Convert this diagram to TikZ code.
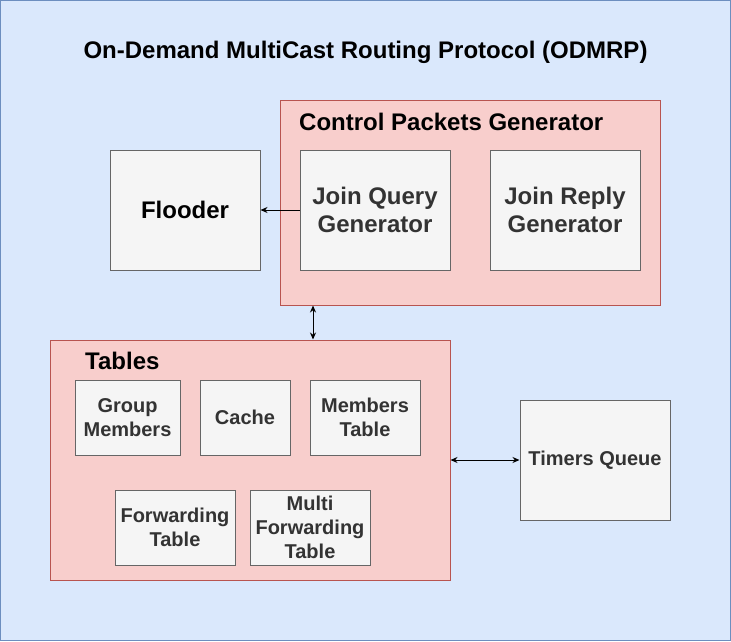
\documentclass[tikz,border=0pt]{standalone}
\usepackage{fontspec}
\setmainfont{Liberation Sans}
\usepackage{xcolor}
\usepackage{tikz}
\usetikzlibrary{arrows.meta}

\definecolor{outerfill}{HTML}{DAE8FC}
\definecolor{outerline}{HTML}{6C8EBF}
\definecolor{groupfill}{HTML}{F8CECC}
\definecolor{groupline}{HTML}{B85450}
\definecolor{itemfill}{HTML}{F5F5F5}
\definecolor{itemline}{HTML}{666666}
\definecolor{itemtext}{HTML}{333333}

\newcommand{\bigfont}{\fontsize{24}{28}\selectfont\bfseries}
\newcommand{\smallfont}{\fontsize{20}{24}\selectfont\bfseries}

\tikzset{
  outerbox/.style={draw=outerline, fill=outerfill, line width=1pt, inner sep=0pt},
  groupbox/.style={draw=groupline, fill=groupfill, line width=1pt, inner sep=0pt},
  grouplabel/.style={anchor=west, inner sep=0pt, font=\bigfont},
  itembox/.style={draw=itemline, fill=itemfill, line width=1pt, inner sep=0pt,
    align=center, text=itemtext, font=\smallfont},
  bigitem/.style={itembox, font=\bigfont},
  link/.style={line width=1pt, -{Stealth[length=7pt,width=6pt]}},
  duplex/.style={line width=1pt, {Stealth[length=7pt,width=6pt]}-{Stealth[length=7pt,width=6pt]}},
}

\begin{document}
\begin{tikzpicture}[x=1pt,y=-1pt]
        \useasboundingbox (0,0) rectangle (731,641);
        \node[outerbox, minimum width=730, minimum height=640] (main) at (365.5,320.5) {};
        \node[font=\bigfont] (title) at (365.5,52) {On-Demand MultiCast Routing Protocol (ODMRP)};

        % Control packets generator
        \node[groupbox, minimum width=380, minimum height=205] (cpg) at (470,202.5) {};
        \node[grouplabel] (cpglabel) at (299,122) {Control Packets Generator};
        \node[bigitem, minimum width=150, minimum height=120] (joinquery) at (375,210) {Join Query\\Generator};
        \node[bigitem, minimum width=150, minimum height=120] (joinreply) at (565,210) {Join Reply\\Generator};

        \node[bigitem, text=black, minimum width=150, minimum height=120] (flooder) at (185,210) {Flooder};

        % Tables
        \node[groupbox, minimum width=400, minimum height=240] (tables) at (250,460) {};
        \node[grouplabel] (tableslabel) at (85,361) {Tables};
        \node[itembox, minimum width=105, minimum height=75] (groupmembers) at (127.5,417.5) {Group\\Members};
        \node[itembox, minimum width=90, minimum height=75] (cache) at (245,417.5) {Cache};
        \node[itembox, minimum width=110, minimum height=75] (memberstable) at (365,417.5) {Members\\Table};
        \node[itembox, minimum width=120, minimum height=75] (fwdtable) at (175,527.5) {Forwarding\\Table};
        \node[itembox, minimum width=120, minimum height=75] (multifwd) at (310,527.5) {Multi\\Forwarding\\Table};

        \node[itembox, minimum width=150, minimum height=120] (timers) at (595,460) {Timers Queue};

        % connectors
        \coordinate (linkx) at (313,0);
        \draw[link] (joinquery.west) -- (flooder.east);
        \draw[duplex] (cpg.south -| linkx) -- (tables.north -| linkx);
        \draw[duplex] (tables.east) -- (timers.west);
    \end{tikzpicture}
\end{document}
